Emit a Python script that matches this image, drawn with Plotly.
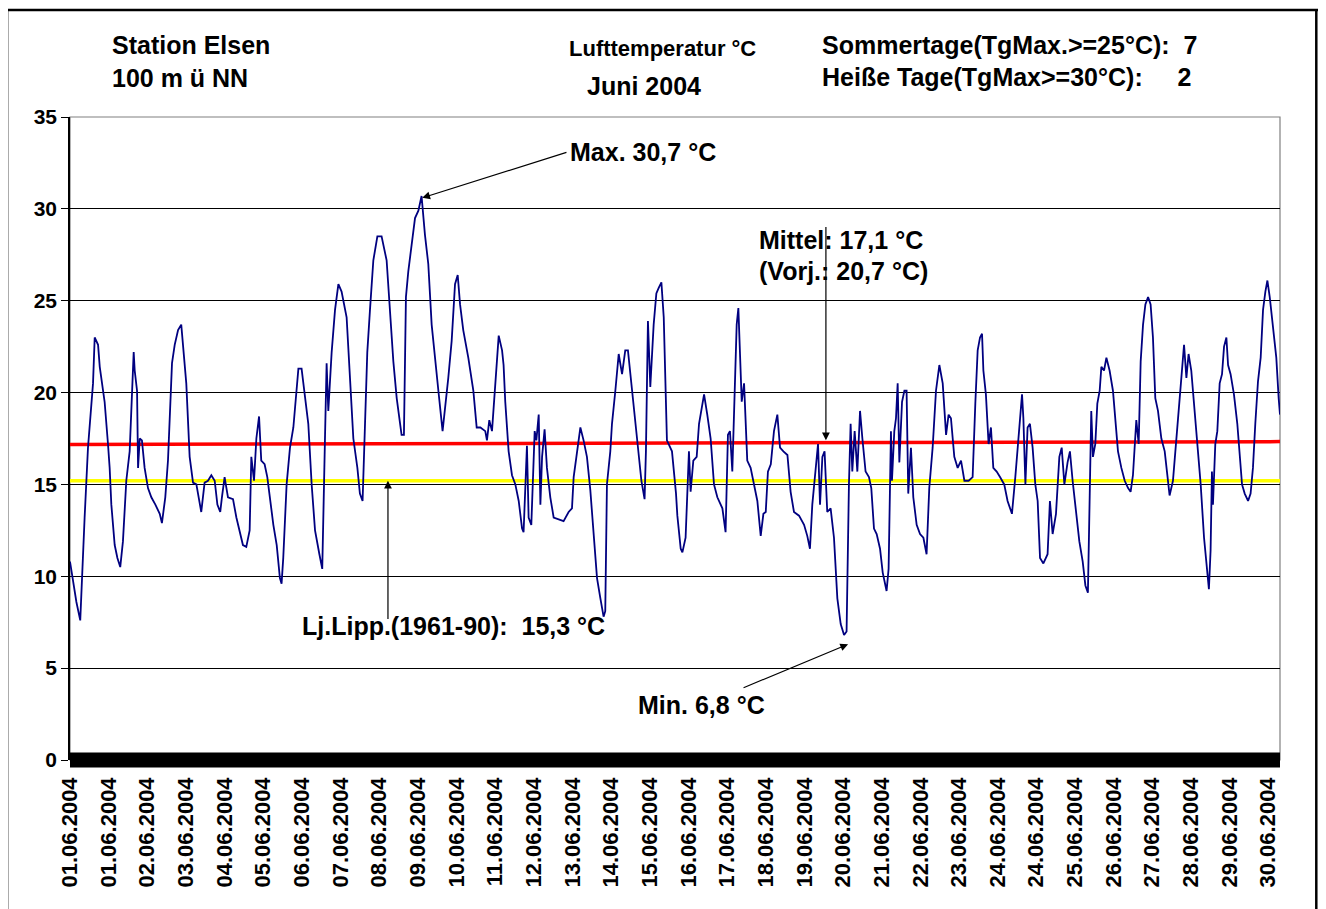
import plotly.graph_objects as go

# --- data (hours since 01.06.2004 00:00, air temperature in °C) ---
stunden = [
    0, 3.8, 6.1, 7.7, 8.7, 10.7, 12.7, 13.7, 14.7, 16.7, 17.7, 20.6, 22.6, 23.6, 24.6, 26.6, 28.2, 29.9,
    31.5, 33.5, 35.5, 36.5, 37.9, 38.5, 39.9, 40.5, 41.5, 42.8, 44.4, 46.4, 48.4, 50.8, 53.4, 54.7,
    56.7, 58.3, 59.3, 60.7, 62.3, 64.3, 66.2, 67.2, 69.2, 71.2, 73.2, 75.2, 76.6, 78.1, 80.1, 82.1,
    84.1, 86.1, 87.7, 89.4, 90.4, 92.0, 94.0, 97.0, 99.0, 101.0, 102.9, 104.9, 106.9, 107.9, 109.5,
    110.9, 112.5, 113.8, 115.8, 117.4, 118.8, 121.0, 123.0, 124.9, 125.9, 126.9, 128.9, 130.9, 132.9,
    134.9, 135.9, 137.8, 139.8, 141.8, 143.8, 145.8, 148.4, 150.1, 151.7, 152.7, 153.7, 155.7, 157.7,
    159.7, 161.6, 164.6, 166.6, 168.6, 171.0, 172.5, 174.1, 175.5, 176.9, 178.5, 180.5, 182.9, 185.4,
    188.4, 190.4, 192.4, 194.4, 196.4, 197.3, 198.7, 199.9, 201.3, 203.3, 205.3, 207.3, 209.2, 211.2,
    213.2, 215.2, 217.2, 219.2, 221.7, 223.1, 225.1, 227.1, 229.1, 230.7, 232.1, 234.0, 237.0, 240.0,
    242.0, 244.2, 247.1, 248.1, 249.5, 251.1, 253.1, 255.1, 257.1, 258.0, 259.0, 261.0, 263.0, 265.0,
    267.0, 269.0, 269.9, 271.9, 272.9, 274.5, 276.5, 277.5, 278.9, 279.9, 280.9, 282.4, 283.8, 285.8,
    287.8, 290.8, 293.7, 296.7, 298.7, 299.7, 301.7, 303.7, 305.6, 307.6, 309.6, 311.6, 313.6, 315.6,
    317.5, 318.5, 319.5, 321.5, 322.5, 324.5, 326.5, 328.5, 330.4, 332.0, 334.0, 336.0, 338.0, 340.0,
    341.9, 342.7, 343.9, 345.3, 347.3, 348.9, 350.3, 351.9, 353.3, 355.2, 358.2, 360.6, 361.4, 363.4,
    364.4, 366.3, 368.3, 369.3, 370.9, 372.9, 374.3, 375.7, 377.3, 379.2, 381.2, 383.2, 385.2, 388.2,
    390.1, 391.5, 392.7, 394.1, 395.5, 396.7, 397.7, 398.7, 399.7, 401.1, 403.0, 405.0, 407.4, 409.0,
    411.0, 412.6, 414.0, 415.3, 417.0, 418.9, 420.9, 422.5, 424.5, 426.9, 428.8, 430.8, 433.8, 436.8,
    438.7, 440.3, 441.7, 443.7, 445.1, 446.3, 447.7, 449.0, 450.6, 452.6, 454.6, 456.6, 458.6, 460.6,
    462.1, 463.5, 464.5, 465.5, 466.9, 468.5, 470.1, 471.5, 473.4, 475.4, 476.8, 478.4, 480.0, 482.0,
    483.6, 485.9, 487.1, 488.5, 489.1, 490.5, 491.5, 492.5, 493.5, 495.1, 496.5, 497.8, 498.8, 500.4,
    501.8, 503.8, 505.8, 507.8, 509.7, 511.3, 513.3, 515.3, 517.3, 519.3, 521.3, 522.8, 524.2, 526.2,
    528.2, 530.2, 532.2, 534.7, 537.1, 538.7, 540.1, 541.5, 542.7, 543.5, 545.0, 546.6, 548.0, 549.4,
    551.4, 553.4, 555.9, 557.9, 560.5, 562.5, 564.5, 566.5, 567.3, 568.5, 569.8, 571.2, 572.8, 574.4,
    575.8, 577.2, 579.2, 581.7, 583.1, 584.7, 586.7, 588.7, 590.1, 591.7, 593.6, 595.0, 596.6, 598.6,
    600.6, 602.6, 604.2, 605.7, 606.7, 607.7, 608.7, 610.1, 611.3, 612.7, 613.7, 615.3, 616.7, 618.6,
    620.6, 622.0, 623.6, 625.6, 627.6, 629.6, 631.1, 632.5, 634.5, 635.9, 637.1, 638.5, 639.9, 641.5,
    643.0, 644.4, 645.8, 647.4, 649.4, 651.4, 653.0, 654.3, 656.3, 657.7, 659.3, 661.3, 662.9, 664.3,
    665.6, 667.2, 668.8, 670.8, 672.8, 674.8, 676.2, 677.7, 678.7, 679.5, 680.1, 681.5, 682.7, 684.1,
    685.5, 686.7, 688.1, 689.1, 690.6, 692.6, 694.6, 696.0, 697.4, 699.0, 701.0, 702.5, 703.9, 705.3,
    706.9, 708.5, 709.9, 711.3, 712.5, 713.9, 715.8, 717.8, 719.2, 720.0,
]
temperatur = [
    10.8, 8.6, 7.6, 11.6, 13.2, 17.0, 19.7, 20.5, 23.0, 22.6, 21.4, 19.5, 17.2, 15.9, 13.9, 11.7, 11.0, 10.5,
    11.9, 15.2, 16.8, 19.5, 22.2, 21.2, 20.1, 15.9, 17.5, 17.4, 15.9, 14.8, 14.3, 13.9, 13.4, 12.9,
    14.3, 16.3, 18.3, 21.6, 22.6, 23.4, 23.7, 22.6, 20.5, 16.5, 15.1, 15.0, 14.3, 13.5, 15.1, 15.2,
    15.5, 15.2, 13.9, 13.5, 14.3, 15.4, 14.3, 14.2, 13.2, 12.5, 11.7, 11.6, 12.5, 16.5, 15.2,
    17.5, 18.7, 16.3, 16.1, 15.4, 14.3, 12.8, 11.7, 9.9, 9.6, 11.0, 15.0, 17.0, 18.1,
    20.5, 21.3, 21.3, 19.9, 18.3, 15.0, 12.5, 11.2, 10.4, 17.4, 21.6, 19.0, 22.2, 24.5,
    25.9, 25.5, 24.1, 20.8, 17.5, 15.9, 14.5, 14.1, 18.6, 22.2, 24.5, 27.2, 28.5, 28.5,
    27.2, 24.5, 21.7, 19.7, 18.5, 17.7, 17.7, 25.2, 26.6, 28.1, 29.5, 29.9, 30.7, 28.6,
    27.0, 23.7, 21.7, 20.1, 17.9, 19.0, 20.8, 22.8, 25.9, 26.4, 24.8, 23.4, 21.9, 20.1,
    18.1, 18.1, 17.9, 17.4, 18.5, 17.9, 20.5, 23.1, 22.3, 21.5, 19.5, 16.8, 15.5, 15.0,
    14.1, 12.6, 12.4, 17.1, 13.2, 12.8, 17.9, 17.4, 18.8, 13.9, 16.5, 18.0, 15.9, 14.3,
    13.2, 13.1, 13.0, 13.5, 13.7, 15.4, 16.8, 18.1, 17.4, 16.5, 14.7, 12.1, 9.9, 8.8,
    7.8, 8.1, 15.0, 16.8, 18.3, 20.1, 22.1, 21.0, 22.3, 22.3, 20.5, 19.0, 17.2, 15.2,
    14.2, 16.8, 23.9, 20.3, 23.7, 25.4, 25.7, 26.0, 24.1, 17.4, 16.8, 14.5, 13.3, 11.5,
    11.3, 12.1, 16.8, 14.6, 16.3, 16.5, 18.3, 19.0, 19.9, 18.8, 17.5, 15.0, 14.3, 13.7,
    12.4, 17.7, 17.9, 15.7, 20.6, 23.7, 24.6, 21.7, 19.5, 20.5, 16.3, 15.9, 14.8, 14.1,
    12.2, 13.4, 13.5, 15.7, 16.1, 17.9, 18.8, 17.0, 16.8, 16.6, 14.6, 13.5, 13.3, 12.8,
    12.2, 11.5, 13.9, 15.9, 17.2, 13.9, 16.5, 16.8, 13.5, 13.7, 12.1, 8.8, 7.4, 6.8,
    7.0, 15.0, 18.3, 15.7, 17.9, 15.7, 19.0, 17.5, 15.7, 15.4, 14.8, 12.6, 12.3, 11.5,
    10.2, 9.2, 10.4, 17.9, 15.2, 17.9, 18.6, 20.5, 16.2, 19.5, 20.1, 20.1, 14.5, 17.0,
    14.3, 12.8, 12.3, 12.1, 11.2, 14.8, 17.0, 20.1, 21.5, 20.5, 17.7, 18.8, 18.6, 16.5,
    15.9, 16.3, 15.2, 15.2, 15.4, 19.4, 22.3, 23.0, 23.2, 21.2, 19.9, 17.2, 18.1, 15.9,
    15.7, 15.4, 15.0, 14.1, 13.4, 15.4, 17.5, 19.9, 18.6, 15.0, 18.1, 18.3, 17.0, 15.0,
    14.1, 11.0, 10.7, 11.2, 14.1, 12.3, 13.4, 16.5, 17.0, 15.0, 16.2, 16.8, 15.2, 13.7,
    11.9, 10.8, 9.5, 9.1, 13.2, 19.0, 16.5, 17.2, 19.4, 20.1, 21.4, 21.2, 21.9, 21.2,
    20.1, 18.3, 16.8, 15.9, 15.2, 14.8, 14.6, 15.5, 18.5, 17.2, 21.7, 23.7, 24.8, 25.2,
    24.8, 23.0, 19.7, 19.0, 17.5, 16.8, 15.4, 14.4, 15.2, 16.8, 18.6, 20.6, 22.6, 20.8,
    22.1, 21.2, 19.4, 16.8, 15.0, 12.1, 10.8, 9.3, 11.4, 15.7, 13.9, 17.2, 17.9, 20.5,
    21.0, 22.5, 23.0, 21.5, 21.0, 19.9, 18.3, 16.8, 15.0, 14.5, 14.1, 14.5, 15.9, 18.3,
    20.6, 21.9, 24.5, 25.5, 26.1, 25.2, 23.7, 21.9, 19.7, 18.8,
]

# reference / mean lines
mittel_stunden = [0, 720]
mittel_werte = [17.18, 17.33]      # red line (Monatsmittel / Trend)
langjaehrig_stunden = [0, 720]
langjaehrig_werte = [15.2, 15.2]   # yellow line (Lj. Lipp. 1961-90)

# x tick labels (every 23 hourly values, as in the original category axis)
tick_labels = [
    "01.06.2004", "01.06.2004", "02.06.2004", "03.06.2004", "04.06.2004", "05.06.2004",
    "06.06.2004", "07.06.2004", "08.06.2004", "09.06.2004", "10.06.2004", "11.06.2004",
    "12.06.2004", "13.06.2004", "14.06.2004", "15.06.2004", "16.06.2004", "17.06.2004",
    "18.06.2004", "19.06.2004", "20.06.2004", "21.06.2004", "22.06.2004", "23.06.2004",
    "24.06.2004", "24.06.2004", "25.06.2004", "26.06.2004", "27.06.2004", "28.06.2004",
    "29.06.2004", "30.06.2004",
]
tick_step = 23
tick_positions = [i * tick_step for i in range(len(tick_labels))]

y_ticks = [0, 5, 10, 15, 20, 25, 30, 35]

FONT = "Arial, Liberation Sans, sans-serif"
NB = "\u00a0"

fig = go.Figure()
fig.add_trace(go.Scatter(x=langjaehrig_stunden, y=langjaehrig_werte, mode="lines",
                         line=dict(color="#FFFF00", width=3.5), hoverinfo="skip"))
fig.add_trace(go.Scatter(x=mittel_stunden, y=mittel_werte, mode="lines",
                         line=dict(color="#FF0000", width=3.5), hoverinfo="skip"))
fig.add_trace(go.Scatter(x=stunden, y=temperatur, mode="lines",
                         line=dict(color="#000080", width=1.8)))

txt = dict(family=FONT, size=25, color="black", weight="bold")

annotations = [
    # header texts
    dict(text="Station Elsen", x=0.033, y=1.112, xanchor="left", yanchor="middle", font=txt),
    dict(text="100 m ü NN", x=0.033, y=1.060, xanchor="left", yanchor="middle", font=txt),
    dict(text="Lufttemperatur °C", x=0.411, y=1.107, xanchor="left", yanchor="middle",
         font=dict(family=FONT, size=22, color="black", weight="bold")),
    dict(text="Juni 2004", x=0.426, y=1.048, xanchor="left", yanchor="middle", font=txt),
    dict(text="Sommertage(TgMax.>=25°C):" + NB * 2 + "7", x=0.620, y=1.112, xanchor="left",
         yanchor="middle", font=txt),
    dict(text="Heiße Tage(TgMax>=30°C):" + NB * 5 + "2", x=0.620, y=1.062, xanchor="left",
         yanchor="middle", font=txt),
    # in-plot labels
    dict(text="Max. 30,7 °C", x=0.4116, y=0.946, xanchor="left", yanchor="middle", font=txt),
    dict(text="Mittel: 17,1 °C", x=0.568, y=0.808, xanchor="left", yanchor="middle", font=txt),
    dict(text="(Vorj.: 20,7 °C)", x=0.568, y=0.760, xanchor="left", yanchor="middle", font=txt),
    dict(text="Lj.Lipp.(1961-90):" + NB * 2 + "15,3 °C", x=0.190, y=0.208, xanchor="left",
         yanchor="middle", font=txt),
    dict(text="Min. 6,8 °C", x=0.468, y=0.085, xanchor="left", yanchor="middle", font=txt),
]
for a in annotations:
    a.update(xref="paper", yref="paper", showarrow=False)

arrow = dict(text="", showarrow=True, arrowhead=2, arrowsize=1.3, arrowwidth=1.2,
             arrowcolor="black", xref="x", yref="y", axref="x", ayref="y")
annotations += [
    dict(x=209.6, y=30.6, ax=296.3, ay=33.1, **arrow),   # Max
    dict(x=463.0, y=6.3, ax=399.9, ay=3.9, **arrow),     # Min
    dict(x=449.8, y=17.4, ax=449.8, ay=29.1, **arrow),   # Mittel
    dict(x=189.2, y=15.2, ax=189.2, ay=7.6, **arrow),    # Lj.Lipp
]

FRAME_TOP = 1.1665
shapes = [
    # plot area border (grey)
    dict(type="rect", xref="paper", yref="paper", x0=0, x1=1, y0=0, y1=1,
         line=dict(color="#808080", width=1.2), layer="below"),
    # thick black band on the category axis
    dict(type="line", xref="paper", yref="paper", x0=0, x1=1, y0=0, y1=0,
         line=dict(color="black", width=15)),
    # outer frame
    dict(type="line", xref="paper", yref="paper", x0=-0.052, x1=-0.052, y0=FRAME_TOP, y1=-0.30,
         line=dict(color="black", width=2.5)),
    dict(type="line", xref="paper", yref="paper", x0=1.030, x1=1.030, y0=FRAME_TOP, y1=-0.30,
         line=dict(color="black", width=2.5)),
    dict(type="line", xref="paper", yref="paper", x0=-0.06, x1=1.04, y0=FRAME_TOP, y1=FRAME_TOP,
         line=dict(color="black", width=2.5)),
]

# the page body adds an 8 px offset; the figure is sized so that it ends at the window edge
fig.update_layout(
    width=1318, height=901,
    margin=dict(l=62, r=46, t=109, b=149),
    paper_bgcolor="white", plot_bgcolor="white",
    showlegend=False,
    annotations=annotations,
    shapes=shapes,
    font=dict(family=FONT, color="black"),
)
fig.update_xaxes(
    range=[0, 720], tickmode="array", tickvals=tick_positions, ticktext=tick_labels,
    tickangle=-90, tickfont=dict(family=FONT, size=22, color="black", weight="bold"),
    showgrid=False, zeroline=False, showline=False, ticks="", ticklabelstandoff=12,
)
fig.update_yaxes(
    range=[0, 35], tickmode="array", tickvals=y_ticks,
    tickfont=dict(family=FONT, size=21, color="black", weight="bold"),
    showgrid=True, gridcolor="black", gridwidth=1, zeroline=False,
    showline=True, linecolor="black", linewidth=1.5, ticks="outside", ticklen=7,
    tickcolor="black", tickwidth=1.2,
)

fig.write_html("out.html")
